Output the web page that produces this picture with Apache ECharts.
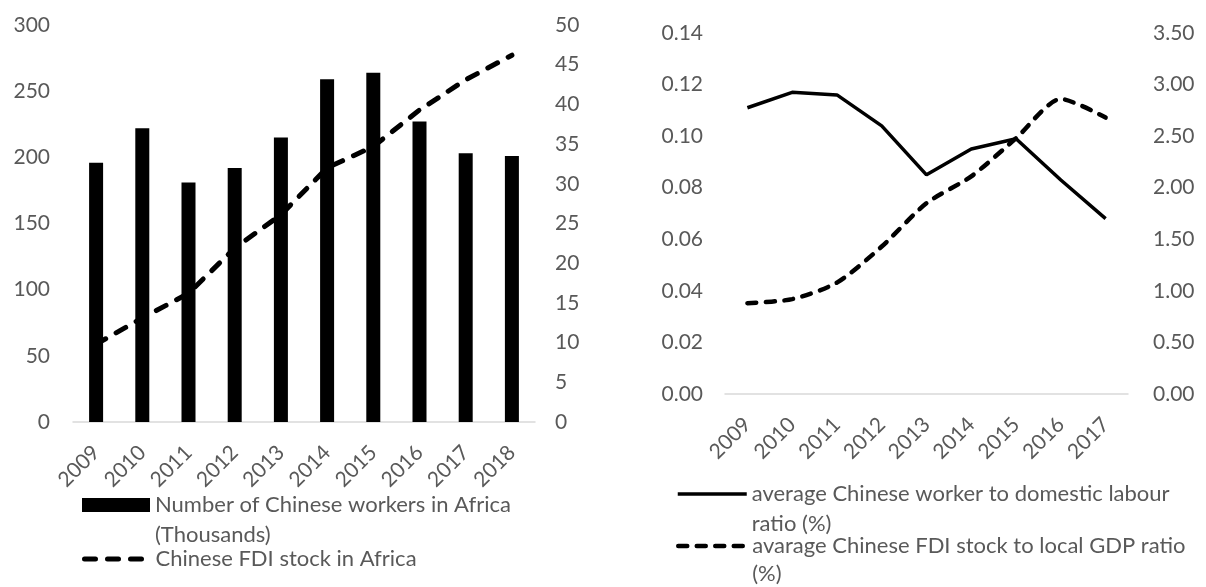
<!DOCTYPE html>
<html>
<head>
<meta charset="utf-8">
<script src="https://cdn.jsdelivr.net/npm/echarts@6/dist/echarts.min.js"></script>
<style>
  html, body { margin: 0; padding: 0; background: #fff; }
  #chart { width: 1206px; height: 587px; }
</style>
</head>
<body>
<div id="chart"></div>
<script>
// Left panel: Chinese workers (bars) and FDI stock (dashed line)
const yearsLeft = ['2009', '2010', '2011', '2012', '2013', '2014', '2015', '2016', '2017', '2018'];
const workers = [196, 222, 181, 192, 215, 259, 264, 227, 203, 201];
const fdiStock = [9.8, 13.1, 16.2, 21.9, 26.1, 32.0, 34.7, 39.3, 43.1, 46.2];

// Right panel: ratios
const yearsRight = ['2009', '2010', '2011', '2012', '2013', '2014', '2015', '2016', '2017'];
const workerRatio = [0.111, 0.117, 0.116, 0.104, 0.085, 0.095, 0.099, 0.083, 0.068];
const fdiGdpRatio = [0.88, 0.92, 1.08, 1.43, 1.85, 2.11, 2.48, 2.86, 2.68];

const nameWorkers = 'Number of Chinese workers in Africa';
const nameWorkersLine2 = '(Thousands)';
const nameFdi = 'Chinese FDI stock in Africa';
const nameRatio = 'average Chinese worker to domestic labour';
const nameRatioLine2 = 'ratio (%)';
const nameFdiGdp = 'avarage Chinese FDI stock to local GDP ratio';
const nameFdiGdpLine2 = '(%)';

const FONT = 'Lato';
const GREY = '#595959';
const AXIS_FS = 21;
const LEGEND_FS = 22;

// Line styles shared by series and their legend icons
const fdiLine = { color: '#000', width: 5, type: [11, 12], cap: 'round' };
const ratioLine = { color: '#000', width: 3.5, type: 'solid' };
const fdiGdpLine = { color: '#000', width: 4.5, type: [9, 9.5], cap: 'round' };

function valueAxis(gridIndex, position, max, interval, fmt, margin) {
  return {
    type: 'value', gridIndex, position, min: 0, max, interval,
    axisLine: { show: false }, axisTick: { show: false },
    splitLine: { show: false },
    axisLabel: { color: GREY, fontFamily: FONT, fontSize: AXIS_FS, formatter: fmt, margin }
  };
}

function catAxis(gridIndex, data) {
  return {
    type: 'category', gridIndex, data, boundaryGap: true,
    axisLine: { show: true, lineStyle: { color: '#d9d9d9', width: 1.5 } },
    axisTick: { show: false },
    axisLabel: { color: GREY, fontFamily: FONT, fontSize: AXIS_FS, rotate: 45, margin: 27, interval: 0 }
  };
}

const legendText = (lh) => ({ color: GREY, fontFamily: FONT, fontSize: LEGEND_FS, lineHeight: lh });

// A leading blank line keeps the legend icon level with the first text line
const wrapped = (a, b) => () => '\n' + a + '\n' + b;

const chart = echarts.init(document.getElementById('chart'), null, { renderer: 'canvas' });
chart.setOption({
  animation: false,
  backgroundColor: '#fff',
  grid: [
    { left: 73, top: 25, width: 462, height: 397 },
    { left: 725, top: 33, width: 403, height: 361 }
  ],
  xAxis: [catAxis(0, yearsLeft), catAxis(1, yearsRight)],
  yAxis: [
    valueAxis(0, 'left', 300, 50, (v) => String(v), 23),
    valueAxis(0, 'right', 50, 5, (v) => String(v), 20),
    valueAxis(1, 'left', 0.14, 0.02, (v) => v.toFixed(2), 22),
    valueAxis(1, 'right', 3.5, 0.5, (v) => v.toFixed(2), 25)
  ],
  legend: [
    {
      data: [{ name: nameWorkers, icon: 'rect' }], left: 82, top: 460, padding: 0,
      itemWidth: 68, itemHeight: 14,
      formatter: wrapped(nameWorkers, nameWorkersLine2),
      textStyle: legendText(30)
    },
    {
      data: [nameFdi], left: 82, top: 545, padding: 0,
      itemWidth: 66, itemHeight: 14, itemStyle: { opacity: 0 },
      lineStyle: fdiLine,
      textStyle: legendText(28)
    },
    {
      data: [nameRatio], left: 676, top: 449, padding: 0,
      itemWidth: 69, itemHeight: 14, itemStyle: { opacity: 0 },
      lineStyle: ratioLine,
      formatter: wrapped(nameRatio, nameRatioLine2),
      textStyle: legendText(30)
    },
    {
      data: [nameFdiGdp], left: 676, top: 504, padding: 0,
      itemWidth: 69, itemHeight: 14, itemStyle: { opacity: 0 },
      lineStyle: fdiGdpLine,
      formatter: wrapped(nameFdiGdp, nameFdiGdpLine2),
      textStyle: legendText(28)
    }
  ],
  series: [
    {
      name: nameWorkers, type: 'bar', xAxisIndex: 0, yAxisIndex: 0,
      data: workers, barWidth: 14,
      itemStyle: { color: '#000' }
    },
    {
      name: nameFdi, type: 'line', xAxisIndex: 0, yAxisIndex: 1,
      data: fdiStock, symbol: 'none',
      lineStyle: fdiLine,
      itemStyle: { color: '#000' }
    },
    {
      name: nameRatio, type: 'line', xAxisIndex: 1, yAxisIndex: 2,
      data: workerRatio, symbol: 'none',
      lineStyle: ratioLine,
      itemStyle: { color: '#000' }
    },
    {
      name: nameFdiGdp, type: 'line', xAxisIndex: 1, yAxisIndex: 3,
      data: fdiGdpRatio, symbol: 'none', smooth: 0.25,
      lineStyle: fdiGdpLine,
      itemStyle: { color: '#000' }
    }
  ]
});
</script>
</body>
</html>
